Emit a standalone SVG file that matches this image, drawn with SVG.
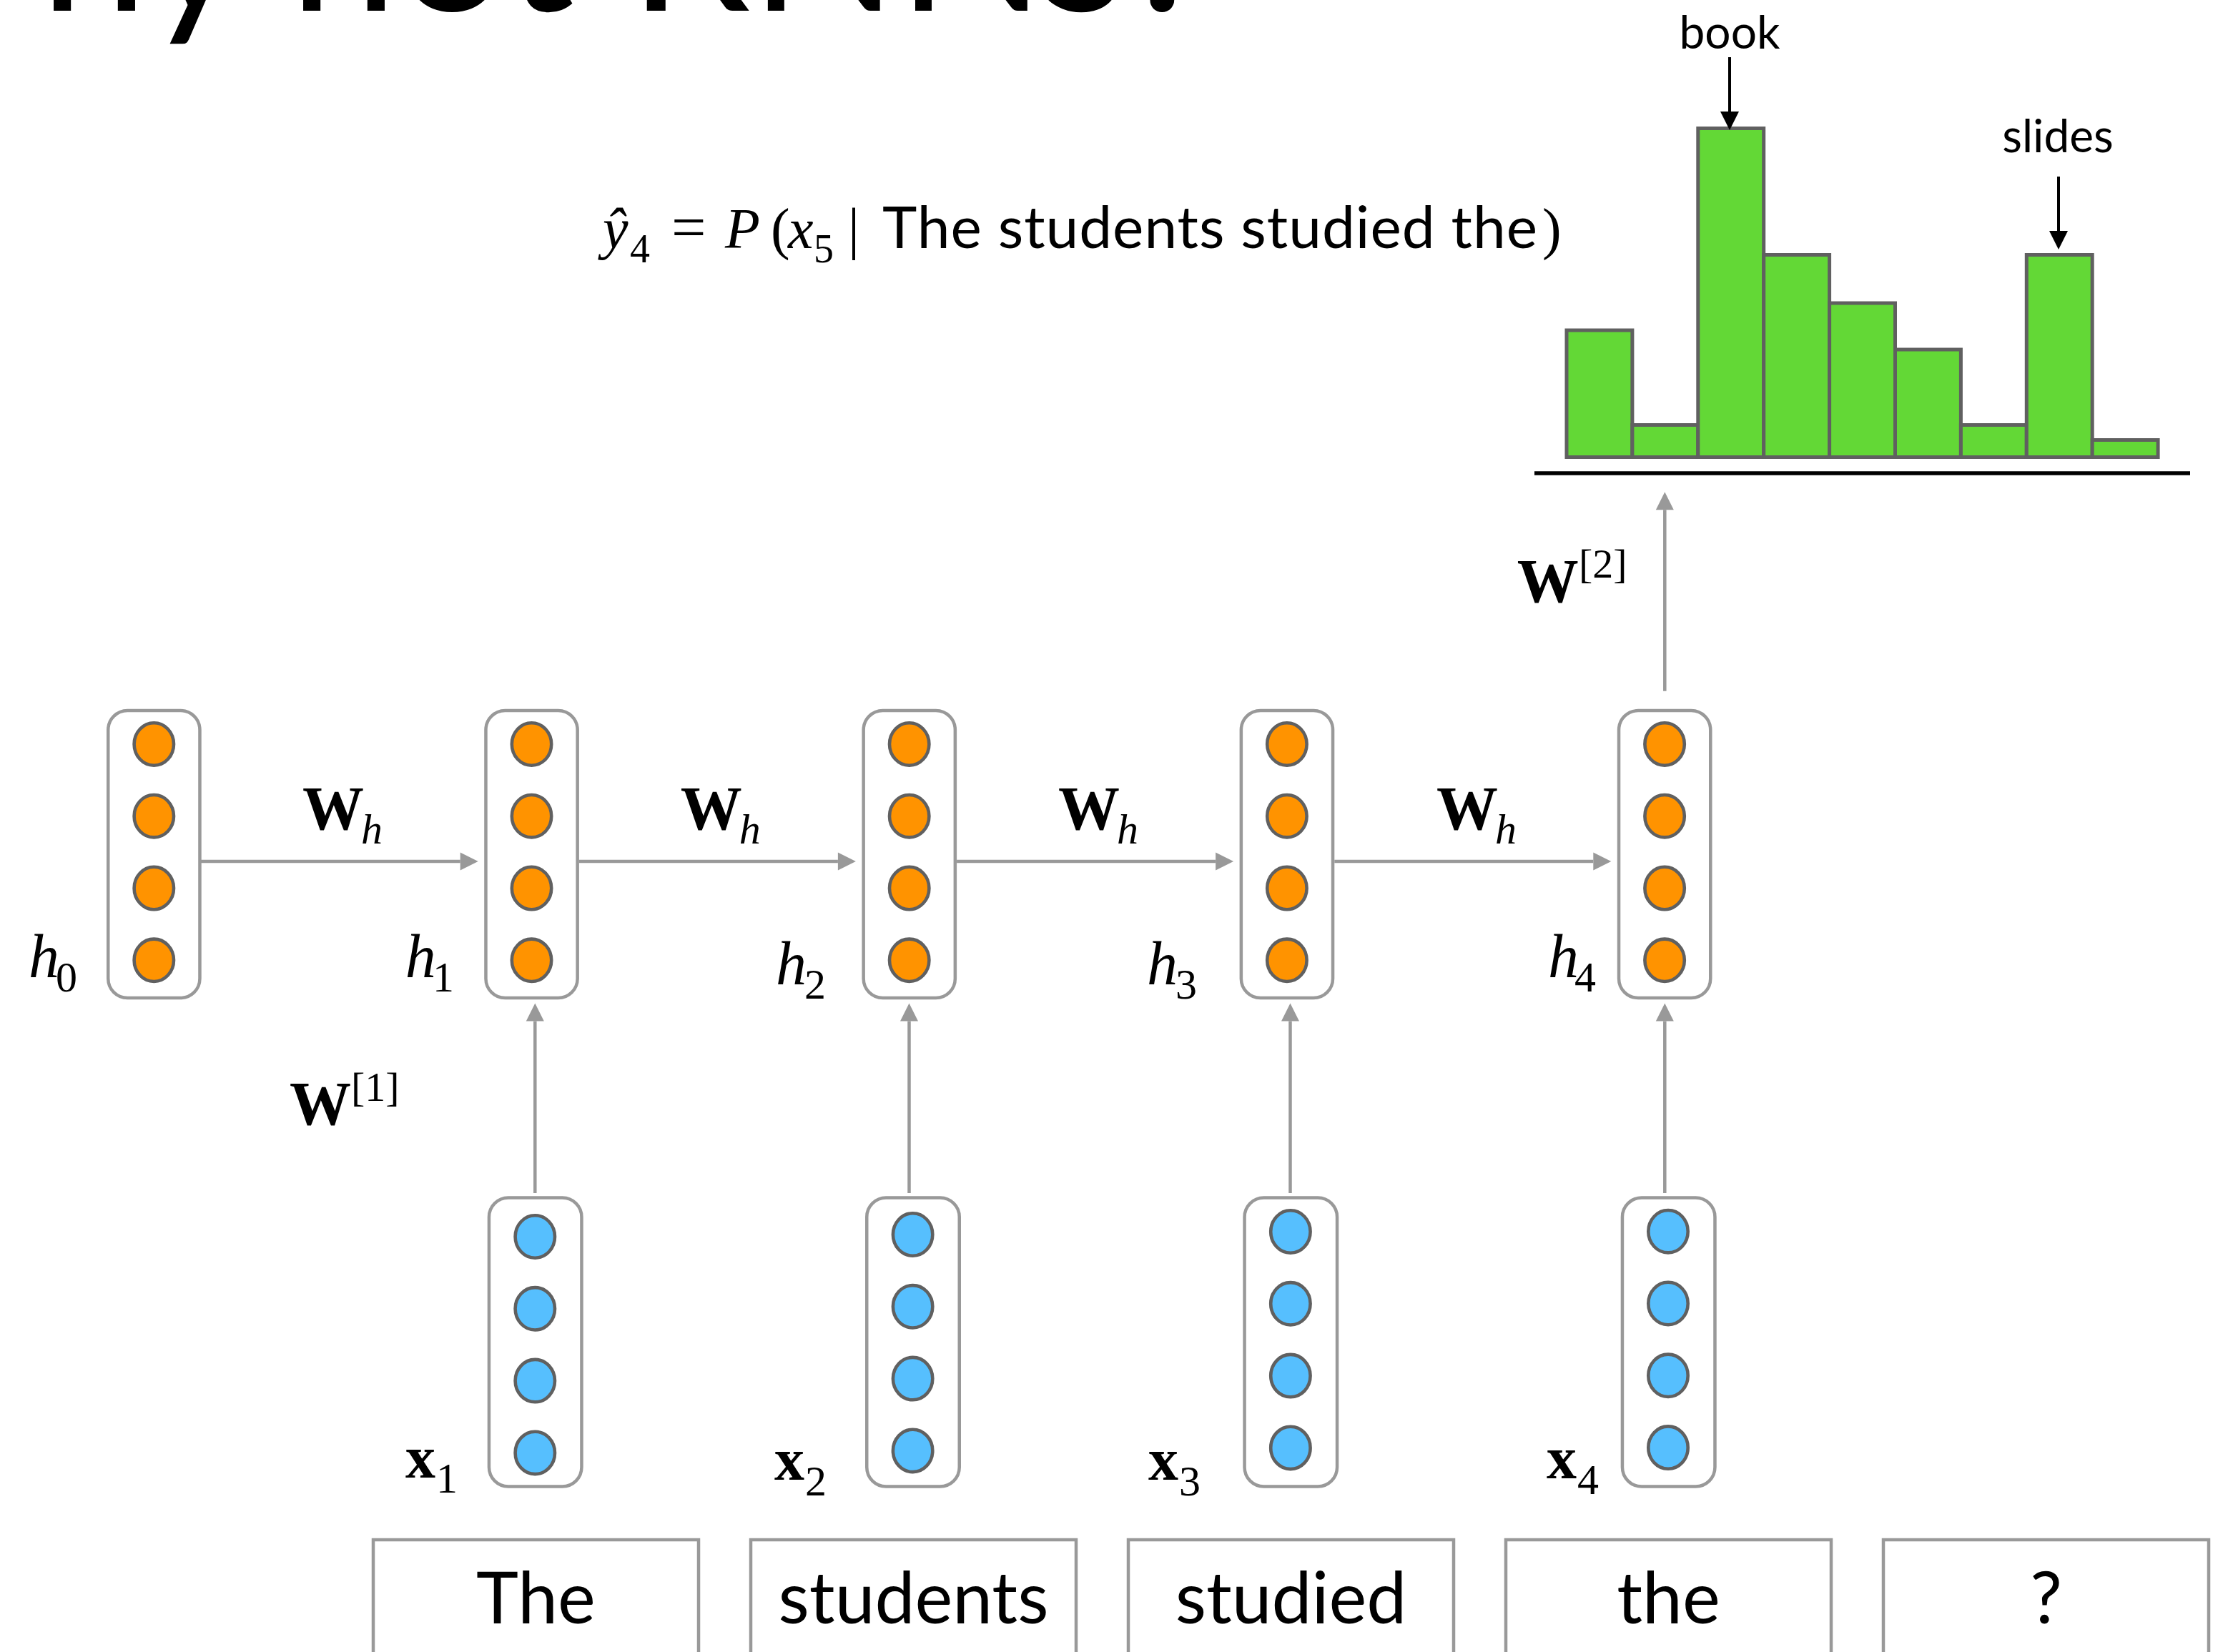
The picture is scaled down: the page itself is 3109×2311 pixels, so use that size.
<svg xmlns="http://www.w3.org/2000/svg" width="3109" height="2311" viewBox="0 0 3109 2311">
<style>
.box{fill:#fff;stroke:#999;stroke-width:4.5}
.hc{fill:#FF9300;stroke:#606060;stroke-width:4.6}
.xc{fill:#56BFFE;stroke:#606060;stroke-width:4.6}
.conn{stroke:#999;stroke-width:4.5;fill:none}
.blk{stroke:#000;stroke-width:4;fill:none}
.math{font-family:'Liberation Serif','Times New Roman',serif;fill:#000}
.sans{font-family:Lato,'Open Sans',sans-serif;fill:#000}
.bar{fill:#63D836;stroke:#606060;stroke-width:5}
.word{fill:#fff;stroke:#999;stroke-width:4.5}
</style>
<defs>
<marker id="ag" markerUnits="userSpaceOnUse" markerWidth="26" markerHeight="26" refX="0" refY="12.5" orient="auto" overflow="visible"><path d="M0,0 L25,12.5 L0,25 z" fill="#999"/></marker>
<marker id="ab" markerUnits="userSpaceOnUse" markerWidth="27" markerHeight="27" refX="0" refY="13" orient="auto" overflow="visible"><path d="M0,0 L26,13 L0,26 z" fill="#000"/></marker>
</defs>
<rect width="3109" height="2311" fill="#fff"/>

<g id="title">
<text class="sans" font-size="270" y="15"><tspan x="-245">W</tspan><tspan x="56">hy </tspan><tspan x="405">not </tspan><tspan x="880">RNNs?</tspan></text>
</g>

<g id="formula">
<text class="math" font-size="80" y="347"><tspan x="843" font-style="italic">ŷ</tspan><tspan x="881" y="367" font-size="56">4</tspan><tspan x="939" y="347" font-size="86">=</tspan><tspan x="1014" font-style="italic">P</tspan><tspan x="1078">(</tspan><tspan x="1102" font-style="italic">x</tspan><tspan x="1138" y="367" font-size="56">5</tspan><tspan x="1186" y="347">|</tspan></text>
<text class="sans" font-size="82" x="1234" y="347" textLength="916" lengthAdjust="spacing">The students studied the</text>
<text class="math" font-size="80" x="2157" y="347">)</text>
</g>

<g id="histogram">
<rect class="bar" x="2191" y="462" width="91.9" height="177.5"/>
<rect class="bar" x="2282.9" y="594.5" width="91.9" height="45"/>
<rect class="bar" x="2374.8" y="179.5" width="91.9" height="460"/>
<rect class="bar" x="2466.7" y="356.5" width="91.9" height="283"/>
<rect class="bar" x="2558.6" y="424" width="91.9" height="215.5"/>
<rect class="bar" x="2650.5" y="489" width="91.9" height="150.5"/>
<rect class="bar" x="2742.4" y="594.5" width="91.9" height="45"/>
<rect class="bar" x="2834.3" y="356.5" width="91.9" height="283"/>
<rect class="bar" x="2926.2" y="615.5" width="91.9" height="24"/>
<line x1="2146" y1="662" x2="3063" y2="662" stroke="#000" stroke-width="5.5"/>
</g>

<g id="label-book">
<text class="sans" font-size="64" x="2419" y="68" text-anchor="middle">book</text>
<line class="blk" x1="2419" y1="80" x2="2419" y2="156" marker-end="url(#ab)"/>
</g>
<g id="label-slides">
<text class="sans" font-size="64" x="2878" y="213" text-anchor="middle">slides</text>
<line class="blk" x1="2879" y1="247" x2="2879" y2="323" marker-end="url(#ab)"/>
</g>

<g id="connectors">
<line class="conn" x1="272" y1="1205" x2="643.7" y2="1205" marker-end="url(#ag)"/>
<line class="conn" x1="809.9" y1="1205" x2="1171.9" y2="1205" marker-end="url(#ag)"/>
<line class="conn" x1="1338.1" y1="1205" x2="1700.1" y2="1205" marker-end="url(#ag)"/>
<line class="conn" x1="1866.3" y1="1205" x2="2228.3" y2="1205" marker-end="url(#ag)"/>
<line class="conn" x1="748.3" y1="1669" x2="748.3" y2="1428.5" marker-end="url(#ag)"/>
<line class="conn" x1="1271.5" y1="1669" x2="1271.5" y2="1428.5" marker-end="url(#ag)"/>
<line class="conn" x1="1804.5" y1="1669" x2="1804.5" y2="1428.5" marker-end="url(#ag)"/>
<line class="conn" x1="2328.3" y1="1669" x2="2328.3" y2="1428.5" marker-end="url(#ag)"/>
<line class="conn" x1="2328.3" y1="966.7" x2="2328.3" y2="713.3" marker-end="url(#ag)"/>
</g>

<g id="h0">
<rect class="box" x="151.25" y="994" width="128.2" height="402" rx="27"/>
<ellipse class="hc" cx="215.3" cy="1041" rx="27.7" ry="29.7"/>
<ellipse class="hc" cx="215.3" cy="1141.7" rx="27.7" ry="29.7"/>
<ellipse class="hc" cx="215.3" cy="1242.5" rx="27.7" ry="29.7"/>
<ellipse class="hc" cx="215.3" cy="1343.3" rx="27.7" ry="29.7"/>
<text class="math" font-size="86" y="1366.7"><tspan x="40" font-style="italic">h</tspan><tspan x="78" y="1386.7" font-size="60">0</tspan></text>
</g>
<g id="h1">
<rect class="box" x="679.45" y="994" width="128.2" height="402" rx="27"/>
<ellipse class="hc" cx="743.5" cy="1041" rx="27.7" ry="29.7"/>
<ellipse class="hc" cx="743.5" cy="1141.7" rx="27.7" ry="29.7"/>
<ellipse class="hc" cx="743.5" cy="1242.5" rx="27.7" ry="29.7"/>
<ellipse class="hc" cx="743.5" cy="1343.3" rx="27.7" ry="29.7"/>
<text class="math" font-size="86" y="1366.7"><tspan x="566.7" font-style="italic">h</tspan><tspan x="605" y="1386.7" font-size="60">1</tspan></text>
</g>
<g id="h2">
<rect class="box" x="1207.65" y="994" width="128.2" height="402" rx="27"/>
<ellipse class="hc" cx="1271.7" cy="1041" rx="27.7" ry="29.7"/>
<ellipse class="hc" cx="1271.7" cy="1141.7" rx="27.7" ry="29.7"/>
<ellipse class="hc" cx="1271.7" cy="1242.5" rx="27.7" ry="29.7"/>
<ellipse class="hc" cx="1271.7" cy="1343.3" rx="27.7" ry="29.7"/>
<text class="math" font-size="86" y="1377.3"><tspan x="1085" font-style="italic">h</tspan><tspan x="1125" y="1397.3" font-size="60">2</tspan></text>
</g>
<g id="h3">
<rect class="box" x="1735.85" y="994" width="128.2" height="402" rx="27"/>
<ellipse class="hc" cx="1799.9" cy="1041" rx="27.7" ry="29.7"/>
<ellipse class="hc" cx="1799.9" cy="1141.7" rx="27.7" ry="29.7"/>
<ellipse class="hc" cx="1799.9" cy="1242.5" rx="27.7" ry="29.7"/>
<ellipse class="hc" cx="1799.9" cy="1343.3" rx="27.7" ry="29.7"/>
<text class="math" font-size="86" y="1377.3"><tspan x="1604" font-style="italic">h</tspan><tspan x="1644" y="1397.3" font-size="60">3</tspan></text>
</g>
<g id="h4">
<rect class="box" x="2264.05" y="994" width="128.2" height="402" rx="27"/>
<ellipse class="hc" cx="2328.1" cy="1041" rx="27.7" ry="29.7"/>
<ellipse class="hc" cx="2328.1" cy="1141.7" rx="27.7" ry="29.7"/>
<ellipse class="hc" cx="2328.1" cy="1242.5" rx="27.7" ry="29.7"/>
<ellipse class="hc" cx="2328.1" cy="1343.3" rx="27.7" ry="29.7"/>
<text class="math" font-size="86" y="1366.7"><tspan x="2165" font-style="italic">h</tspan><tspan x="2202" y="1387.3" font-size="60">4</tspan></text>
</g>

<g id="x1">
<rect class="box" x="683.95" y="1675.5" width="129.5" height="404" rx="27"/>
<ellipse class="xc" cx="748.3" cy="1730" rx="27.7" ry="29.7"/>
<ellipse class="xc" cx="748.3" cy="1830.8" rx="27.7" ry="29.7"/>
<ellipse class="xc" cx="748.3" cy="1931.6" rx="27.7" ry="29.7"/>
<ellipse class="xc" cx="748.3" cy="2032.4" rx="27.7" ry="29.7"/>
<text class="math" font-size="84" y="2066.7"><tspan x="567" font-weight="bold">x</tspan><tspan x="610" y="2088.3" font-size="60">1</tspan></text>
</g>
<g id="x2">
<rect class="box" x="1212.25" y="1675.5" width="129.5" height="404" rx="27"/>
<ellipse class="xc" cx="1276.6" cy="1727" rx="27.7" ry="29.7"/>
<ellipse class="xc" cx="1276.6" cy="1827.8" rx="27.7" ry="29.7"/>
<ellipse class="xc" cx="1276.6" cy="1928.6" rx="27.7" ry="29.7"/>
<ellipse class="xc" cx="1276.6" cy="2029.4" rx="27.7" ry="29.7"/>
<text class="math" font-size="84" y="2070"><tspan x="1083" font-weight="bold">x</tspan><tspan x="1126" y="2092" font-size="60">2</tspan></text>
</g>
<g id="x3">
<rect class="box" x="1740.55" y="1675.5" width="129.5" height="404" rx="27"/>
<ellipse class="xc" cx="1804.9" cy="1723" rx="27.7" ry="29.7"/>
<ellipse class="xc" cx="1804.9" cy="1823.8" rx="27.7" ry="29.7"/>
<ellipse class="xc" cx="1804.9" cy="1924.6" rx="27.7" ry="29.7"/>
<ellipse class="xc" cx="1804.9" cy="2025.4" rx="27.7" ry="29.7"/>
<text class="math" font-size="84" y="2070"><tspan x="1606" font-weight="bold">x</tspan><tspan x="1649" y="2092" font-size="60">3</tspan></text>
</g>
<g id="x4">
<rect class="box" x="2268.95" y="1675.5" width="129.5" height="404" rx="27"/>
<ellipse class="xc" cx="2333" cy="1722.7" rx="27.7" ry="29.7"/>
<ellipse class="xc" cx="2333" cy="1823.5" rx="27.7" ry="29.7"/>
<ellipse class="xc" cx="2333" cy="1924.3" rx="27.7" ry="29.7"/>
<ellipse class="xc" cx="2333" cy="2025.1" rx="27.7" ry="29.7"/>
<text class="math" font-size="84" y="2068"><tspan x="2163" font-weight="bold">x</tspan><tspan x="2206" y="2090" font-size="60">4</tspan></text>
</g>

<g id="weights">
<text class="math" font-size="86" y="1160"><tspan x="423" font-weight="bold">W</tspan><tspan x="505" y="1180" font-size="60" font-style="italic">h</tspan></text>
<text class="math" font-size="86" y="1160"><tspan x="951.7" font-weight="bold">W</tspan><tspan x="1033.7" y="1180" font-size="60" font-style="italic">h</tspan></text>
<text class="math" font-size="86" y="1160"><tspan x="1480" font-weight="bold">W</tspan><tspan x="1562" y="1180" font-size="60" font-style="italic">h</tspan></text>
<text class="math" font-size="86" y="1160"><tspan x="2009" font-weight="bold">W</tspan><tspan x="2091" y="1180" font-size="60" font-style="italic">h</tspan></text>
<text class="math" font-size="86" y="1572.7"><tspan x="405" font-weight="bold">W</tspan><tspan x="491" y="1540" font-size="58">[1]</tspan></text>
<text class="math" font-size="86" y="841.7"><tspan x="2121.7" font-weight="bold">W</tspan><tspan x="2208" y="808" font-size="58">[2]</tspan></text>
</g>

<g id="word-The">
<rect class="word" x="522" y="2154" width="455" height="200"/>
<text class="sans" font-size="100" x="749.5" y="2271" text-anchor="middle">The</text>
</g>
<g id="word-students">
<rect class="word" x="1050" y="2154" width="455" height="200"/>
<text class="sans" font-size="100" x="1277.5" y="2271" text-anchor="middle">students</text>
</g>
<g id="word-studied">
<rect class="word" x="1578" y="2154" width="455" height="200"/>
<text class="sans" font-size="100" x="1805.5" y="2271" text-anchor="middle">studied</text>
</g>
<g id="word-the">
<rect class="word" x="2106" y="2154" width="455" height="200"/>
<text class="sans" font-size="100" x="2333.5" y="2271" text-anchor="middle">the</text>
</g>
<g id="word-q">
<rect class="word" x="2634" y="2154" width="455" height="200"/>
<text class="sans" font-size="100" x="2861.5" y="2271" text-anchor="middle">?</text>
</g>
</svg>
